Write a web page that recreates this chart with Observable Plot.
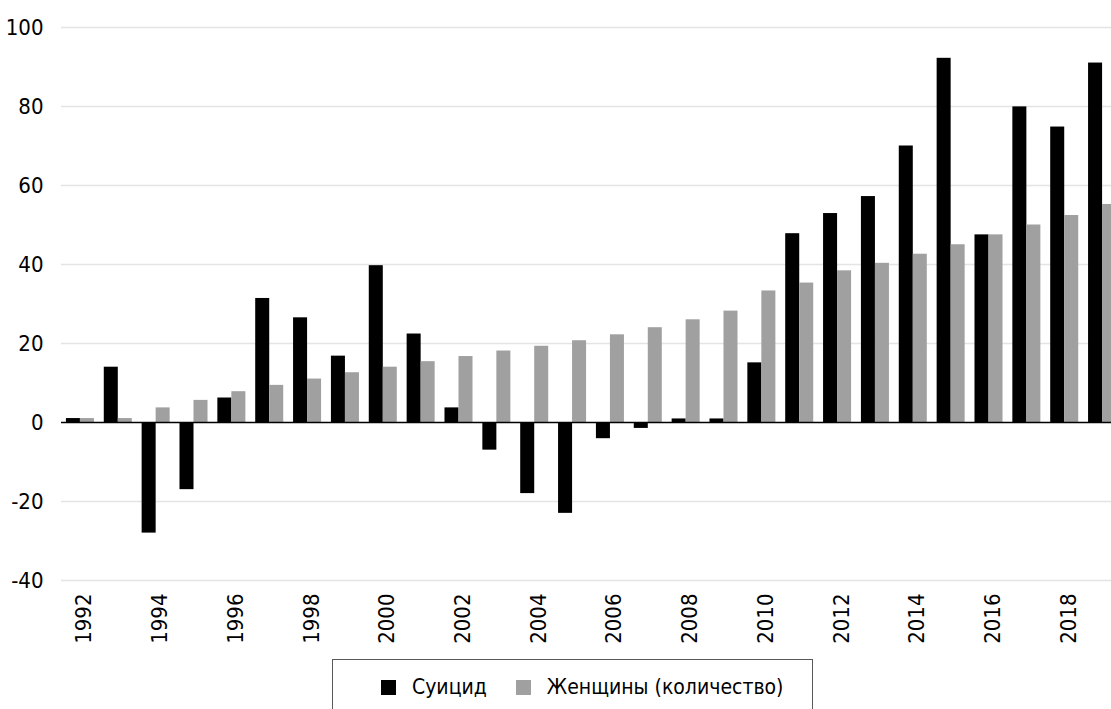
<!DOCTYPE html>
<html>
<head>
<meta charset="utf-8">
<script src="https://cdn.jsdelivr.net/npm/d3@7"></script>
<script src="https://cdn.jsdelivr.net/npm/@observablehq/plot@0.6"></script>
<style>
  html, body { margin: 0; padding: 0; background: #fff; overflow: hidden; }
  #wrap { position: relative; width: 1111px; height: 709px; overflow: hidden; font-family: "DejaVu Sans Condensed", "DejaVu Sans", sans-serif; font-stretch: condensed; }
  #chart { width: 1121px; }
  #legend { position: absolute; left: 332px; top: 659px; width: 481px; height: 70px; box-sizing: border-box;
            border: 1.5px solid #595959; display: flex; align-items: flex-start; padding-left: 48px; padding-top: 12px; font-size: 21px; color: #000; }
  .item { display: flex; align-items: center; height: 30px; }
  .sw { width: 15px; height: 15px; display: inline-block; margin-right: 16px; }
</style>
</head>
<body>
<div id="wrap">
  <div id="chart"></div>
  <div id="legend"></div>
</div>
<script>
const years = [1992,1993,1994,1995,1996,1997,1998,1999,2000,2001,2002,2003,2004,2005,2006,2007,2008,2009,2010,2011,2012,2013,2014,2015,2016,2017,2018,2019];
const suicide = [1,14,-28,-17,6.2,31.4,26.5,16.8,39.7,22.4,3.7,-7,-18,-23,-4.1,-1.5,0.9,0.9,15.1,47.8,52.9,57.2,70,92.2,47.5,79.9,74.8,91];
const women = [1,1,3.7,5.6,7.8,9.4,11,12.6,14,15.4,16.7,18.1,19.3,20.7,22.2,24,26,28.2,33.3,35.3,38.4,40.3,42.6,45,47.5,50,52.4,55.2];
const seriesNames = ["Суицид", "Женщины (количество)"];
const seriesColors = ["#000000", "#a0a0a0"];
const yTicks = [-40,-20,0,20,40,60,80,100];
const xTickYears = [1992,1994,1996,1998,2000,2002,2004,2006,2008,2010,2012,2014,2016,2018];

const data = years.map((year, i) => ({year, suicide: suicide[i], women: women[i]}));
const font = '"DejaVu Sans Condensed", "DejaVu Sans", sans-serif';

const chart = Plot.plot({
  width: 1121,
  height: 650,
  marginLeft: 61,
  marginRight: 0,
  marginTop: 27,
  marginBottom: 70,
  style: {fontFamily: font, fontSize: "22px", color: "#000", background: "transparent", fontStretch: "condensed", maxWidth: "none"},
  x: {type: "band", domain: years, paddingInner: 0.26, paddingOuter: 0.13, round: false, axis: null},
  y: {domain: [-40, 100], axis: null},
  marks: [
    Plot.ruleY(yTicks.filter(v => v !== 0), {stroke: "#e4e4e4", strokeWidth: 1.5}),
    Plot.barY(data, {x: "year", y: "suicide", fill: seriesColors[0], insetRight: 14}),
    Plot.barY(data, {x: "year", y: "women", fill: seriesColors[1], insetLeft: 14}),
    Plot.ruleY([0], {stroke: "#000", strokeWidth: 1.5}),
    Plot.axisY(yTicks, {tickSize: 0, tickPadding: 18, fontSize: 22, tickFormat: d => String(d), label: null}),
    Plot.axisX(xTickYears, {tickSize: 0, tickPadding: 13, tickRotate: -90, textAnchor: "end", lineAnchor: "middle", dx: 4, fontSize: 22, tickFormat: d => String(d), label: null})
  ]
});
chart.style.maxWidth = "none";
document.getElementById("chart").appendChild(chart);

const legend = document.getElementById("legend");
seriesNames.forEach((name, i) => {
  const item = document.createElement("div");
  item.className = "item";
  if (i > 0) item.style.marginLeft = "29px";
  const sw = document.createElement("span");
  sw.className = "sw";
  sw.style.background = seriesColors[i];
  const t = document.createElement("span");
  t.textContent = name;
  item.appendChild(sw);
  item.appendChild(t);
  legend.appendChild(item);
});
</script>
</body>
</html>
